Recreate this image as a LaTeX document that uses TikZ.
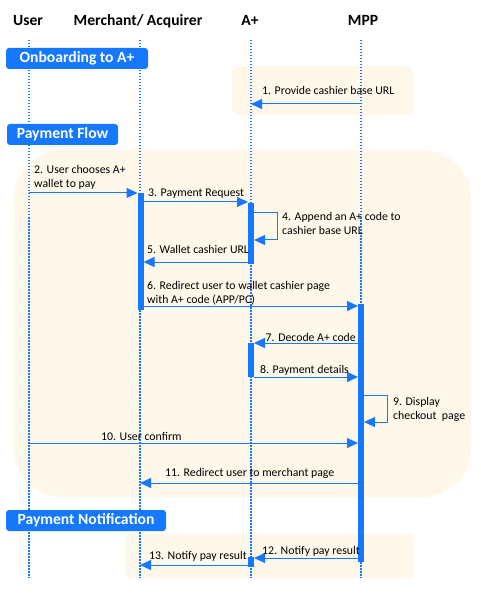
\documentclass[tikz,border=0pt]{standalone}
\usepackage{fontspec}
\setmainfont{Carlito}
\usetikzlibrary{arrows.meta}
\definecolor{seqBlue}{HTML}{1677FF}
\definecolor{seqBeige}{HTML}{FFF8EA}
\newcommand{\seqFont}{\fontsize{11.8}{14}\selectfont}
\newcommand{\headFont}{\bfseries\fontsize{15.6}{18}\selectfont}

\tikzset{
  lifeline/.style={draw=seqBlue, line width=2.2pt, dash pattern=on 1.5pt off 1.5pt},
  actbar/.style={fill=seqBlue},
  area/.style={fill=seqBeige},
  msg/.style={draw=seqBlue, line width=1pt, -{Triangle[length=11pt,width=10pt]}},
  loopmsg/.style={msg, rounded corners=0pt},
  seqLabel/.style={anchor=base west, inner sep=0pt, font=\seqFont, align=left},
  headLabel/.style={anchor=base, inner sep=0pt, font=\headFont},
  phaseBox/.style={fill=seqBlue, rounded corners=3pt, text=white, font=\headFont,
    inner sep=0pt, minimum height=21pt},
}

\begin{document}
\begin{tikzpicture}[x=1pt,y=-1pt]
\useasboundingbox (0,0) rectangle (480,601);

% shaded areas
\fill[area, rounded corners=8pt] (232,66) rectangle (414,115);
\fill[area, rounded corners=48pt] (14,150) rectangle (471,497);
\fill[area, rounded corners=6pt] (125,534) rectangle (414,578);

% headers
\node[headLabel] (user) at (28,26) {User};
\node[headLabel] (merch) at (138,26) {Merchant/ Acquirer};
\node[headLabel] (aplus) at (250,26) {A+};
\node[headLabel] (mpp) at (363,26) {MPP};

% lifelines
\coordinate (userTop) at (29,40);   \coordinate (userBot) at (29,578);
\coordinate (merchTop) at (140,40); \coordinate (merchBot) at (140,578);
\coordinate (aplusTop) at (251,40); \coordinate (aplusBot) at (251,578);
\coordinate (mppTop) at (361,40);   \coordinate (mppBot) at (361,578);
\draw[lifeline] (userTop) -- (userBot);
\draw[lifeline] (merchTop) -- (merchBot);
\draw[lifeline] (aplusTop) -- (aplusBot);
\draw[lifeline] (mppTop) -- (mppBot);

% activation bars
\fill[actbar] (137.5,193) rectangle (143.5,310);
\fill[actbar] (248,203) rectangle (254,264);
\fill[actbar] (358,304) rectangle (364,562);
\fill[actbar] (248,343) rectangle (254,377);
\fill[actbar] (248,557) rectangle (254,567);

% phase labels
\node[phaseBox, minimum width=142pt] (onboard) at (77,58.5) {Onboarding to A+};
\node[phaseBox, minimum width=111pt] (flow) at (62.5,134.5) {Payment Flow};
\node[phaseBox, minimum width=160pt] (notify) at (86,520.5) {Payment Notification};

% 1
\coordinate (m1s) at (361,104); \coordinate (m1e) at (251,104);
\draw[msg] (m1s) -- (m1e);
\node[seqLabel] (t1) at (262,95) {1. Provide cashier base URL};
% 2
\coordinate (m2s) at (29,193); \coordinate (m2e) at (137.5,193);
\draw[msg] (m2s) -- (m2e);
\node[seqLabel] (t2) at (34,188) {2. User chooses A+\\wallet to pay};
% 3
\coordinate (m3s) at (143.5,202); \coordinate (m3e) at (248,202);
\draw[msg] (m3s) -- (m3e);
\node[seqLabel] (t3) at (148,197) {3. Payment Request};
% 4
\coordinate (m4s) at (254,213); \coordinate (m4a) at (277,213);
\coordinate (m4b) at (277,240); \coordinate (m4e) at (254,240);
\draw[loopmsg] (m4s) -- (m4a) -- (m4b) -- (m4e);
\node[seqLabel] (t4) at (282,235) {4. Append an A+ code to\\cashier base URL};
% 5
\coordinate (m5s) at (248,262); \coordinate (m5e) at (143.5,262);
\draw[msg] (m5s) -- (m5e);
\node[seqLabel] (t5) at (147,253) {5. Wallet cashier URL};
% 6
\coordinate (m6s) at (143.5,306); \coordinate (m6e) at (358,306);
\draw[msg] (m6s) -- (m6e);
\node[seqLabel] (t6) at (147,303) {6. Redirect user to wallet cashier page\\with A+ code (APP/PC)};
% 7
\coordinate (m7s) at (358,343); \coordinate (m7e) at (254,343);
\draw[msg] (m7s) -- (m7e);
\node[seqLabel, anchor=base east] (t7) at (356,341) {7. Decode A+ code};
% 8
\coordinate (m8s) at (254,377); \coordinate (m8e) at (358,377);
\draw[msg] (m8s) -- (m8e);
\node[seqLabel] (t8) at (260,373) {8. Payment details};
% 9
\coordinate (m9s) at (364,395); \coordinate (m9a) at (387,395);
\coordinate (m9b) at (387,422); \coordinate (m9e) at (364,422);
\draw[loopmsg] (m9s) -- (m9a) -- (m9b) -- (m9e);
\node[seqLabel] (t9) at (393,419) {9. Display\\checkout~ page};
% 10
\coordinate (m10s) at (29,443); \coordinate (m10e) at (358,443);
\draw[msg] (m10s) -- (m10e);
\node[seqLabel] (t10) at (101,440) {10. User confirm};
% 11
\coordinate (m11s) at (358,483); \coordinate (m11e) at (140,483);
\draw[msg] (m11s) -- (m11e);
\node[seqLabel] (t11) at (165,476) {11. Redirect user to merchant page};
% 12
\coordinate (m12s) at (358,558); \coordinate (m12e) at (254,558);
\draw[msg] (m12s) -- (m12e);
\node[seqLabel] (t12) at (262,554) {12. Notify pay result};
% 13
\coordinate (m13s) at (248,565); \coordinate (m13e) at (140,565);
\draw[msg] (m13s) -- (m13e);
\node[seqLabel] (t13) at (149,559) {13. Notify pay result};
\end{tikzpicture}
\end{document}
